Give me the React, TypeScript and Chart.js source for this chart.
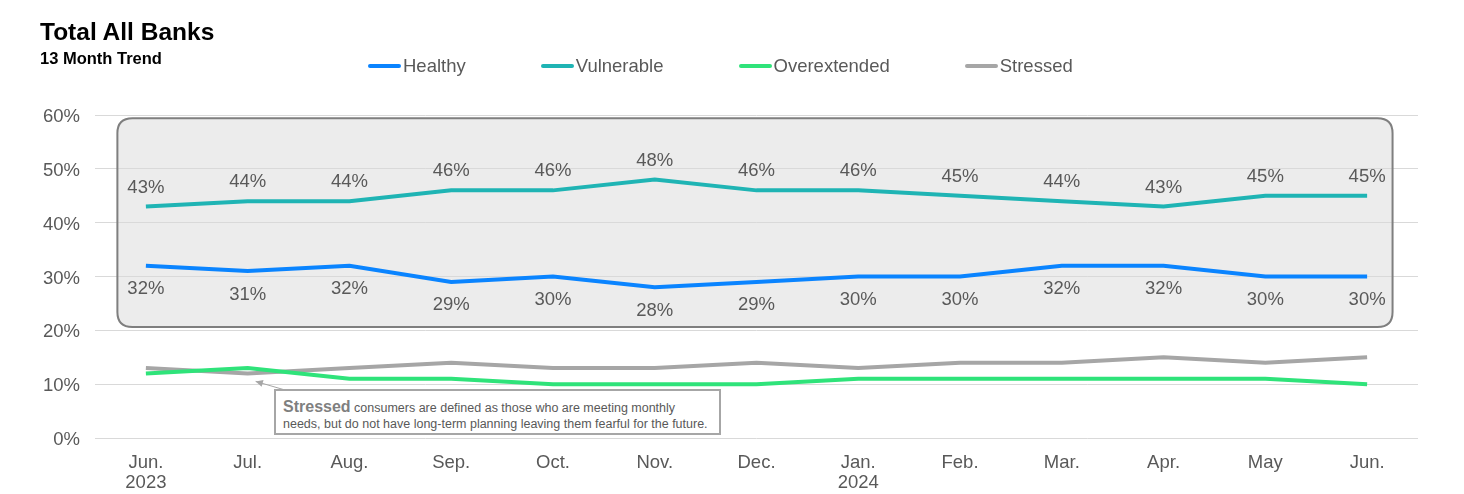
import React, { useEffect, useRef } from "react";
import { Chart, registerables } from "chart.js";

Chart.register(...registerables);

const months = [["Jun.", "2023"], "Jul.", "Aug.", "Sep.", "Oct.", "Nov.", "Dec.", ["Jan.", "2024"], "Feb.", "Mar.", "Apr.", "May", "Jun."];
const healthy = [32, 31, 32, 29, 30, 28, 29, 30, 30, 32, 32, 30, 30];
const vulnerable = [43, 44, 44, 46, 46, 48, 46, 46, 45, 44, 43, 45, 45];
const overextended = [12, 13, 11, 11, 10, 10, 10, 11, 11, 11, 11, 11, 10];
const stressed = [13, 12, 13, 14, 13, 13, 14, 13, 14, 14, 15, 14, 15];
const yTicks = [0, 10, 20, 30, 40, 50, 60];

const FONT = "'Liberation Sans', Arial, sans-serif";
const TEXT = "#595959";
const AXIS_FONT_SIZE = 18.5;

const seriesStyle = [
  { label: "Healthy", data: healthy, color: "#0a84ff", labelPos: "below" },
  { label: "Vulnerable", data: vulnerable, color: "#1fb4b4", labelPos: "above" },
  { label: "Overextended", data: overextended, color: "#2fe37a", labelPos: "none" },
  { label: "Stressed", data: stressed, color: "#a6a6a6", labelPos: "none" },
];

// Shaded panel behind the two upper series, in axis units
const panel = { xMin: -0.28, xMax: 12.25, yMin: 20.6, yMax: 59.4, radius: 15 };

function roundRect(ctx: CanvasRenderingContext2D, x: number, y: number, w: number, h: number, r: number) {
  ctx.beginPath();
  ctx.moveTo(x + r, y);
  ctx.lineTo(x + w - r, y);
  ctx.quadraticCurveTo(x + w, y, x + w, y + r);
  ctx.lineTo(x + w, y + h - r);
  ctx.quadraticCurveTo(x + w, y + h, x + w - r, y + h);
  ctx.lineTo(x + r, y + h);
  ctx.quadraticCurveTo(x, y + h, x, y + h - r);
  ctx.lineTo(x, y + r);
  ctx.quadraticCurveTo(x, y, x + r, y);
  ctx.closePath();
}

function panelRect(chart: any) {
  const { scales } = chart;
  const x0 = scales.x.getPixelForValue(panel.xMin);
  const x1 = scales.x.getPixelForValue(panel.xMax);
  const y0 = scales.y.getPixelForValue(panel.yMax);
  const y1 = scales.y.getPixelForValue(panel.yMin);
  return { x0, x1, y0, y1 };
}

const panelPlugin = {
  id: "panel",
  beforeDraw(chart: any) {
    const { ctx } = chart;
    const { x0, x1, y0, y1 } = panelRect(chart);
    ctx.save();
    roundRect(ctx, x0, y0, x1 - x0, y1 - y0, panel.radius);
    ctx.fillStyle = "#ececec";
    ctx.fill();
    ctx.restore();
  },
  beforeDatasetsDraw(chart: any) {
    const { ctx } = chart;
    const { x0, x1, y0, y1 } = panelRect(chart);
    ctx.save();
    roundRect(ctx, x0, y0, x1 - x0, y1 - y0, panel.radius);
    ctx.strokeStyle = "#7f7f7f";
    ctx.lineWidth = 2;
    ctx.stroke();
    ctx.restore();
  },
};

const valueLabelPlugin = {
  id: "valueLabels",
  afterDatasetsDraw(chart: any) {
    const { ctx } = chart;
    ctx.save();
    ctx.font = `${AXIS_FONT_SIZE}px ${FONT}`;
    ctx.fillStyle = TEXT;
    ctx.textAlign = "center";
    ctx.textBaseline = "middle";
    chart.data.datasets.forEach((ds: any, i: number) => {
      const pos = seriesStyle[i].labelPos;
      if (pos === "none") return;
      const meta = chart.getDatasetMeta(i);
      meta.data.forEach((pt: any, j: number) => {
        const dy = pos === "above" ? -19 : 23.5;
        ctx.fillText(`${ds.data[j]}%`, pt.x, pt.y + dy);
      });
    });
    ctx.restore();
  },
};

// Callout arrow pointing from the note box to the Stressed line
const calloutArrowPlugin = {
  id: "calloutArrow",
  afterDatasetsDraw(chart: any) {
    const { ctx, scales } = chart;
    const tipX = scales.x.getPixelForValue(1) + 8;
    const tipY = scales.y.getPixelForValue(12) + 8;
    const fromX = 285;
    const fromY = 390;
    ctx.save();
    ctx.strokeStyle = "#a6a6a6";
    ctx.fillStyle = "#a6a6a6";
    ctx.lineWidth = 1;
    ctx.beginPath();
    ctx.moveTo(fromX, fromY);
    ctx.lineTo(tipX, tipY);
    ctx.stroke();
    const ang = Math.atan2(tipY - fromY, tipX - fromX);
    const len = 8;
    ctx.beginPath();
    ctx.moveTo(tipX, tipY);
    ctx.lineTo(tipX - len * Math.cos(ang - 0.45), tipY - len * Math.sin(ang - 0.45));
    ctx.lineTo(tipX - len * Math.cos(ang + 0.45), tipY - len * Math.sin(ang + 0.45));
    ctx.closePath();
    ctx.fill();
    ctx.restore();
  },
};

export default function App() {
  const canvasRef = useRef<HTMLCanvasElement | null>(null);

  useEffect(() => {
    document.body.style.margin = "0";
    const canvas = canvasRef.current;
    if (!canvas) return;
    const chart = new Chart(canvas, {
      type: "line",
      data: {
        labels: months,
        datasets: seriesStyle.map((s) => ({
          label: s.label,
          data: s.data,
          borderColor: s.color,
          backgroundColor: s.color,
          borderWidth: 4,
          pointRadius: 0,
          tension: 0,
          fill: false,
        })),
      },
      options: {
        responsive: false,
        animation: false,
        layout: { padding: { left: 0, right: 46, top: 115, bottom: 0 } },
        plugins: {
          legend: { display: false },
          title: { display: false },
          tooltip: { enabled: false },
        },
        scales: {
          x: {
            offset: true,
            grid: { display: false, drawTicks: false },
            border: { display: false },
            ticks: {
              color: TEXT,
              font: { family: FONT, size: AXIS_FONT_SIZE, lineHeight: 1.08 },
              padding: 15,
              maxRotation: 0,
              autoSkip: false,
            },
            afterFit: (s: any) => {
              s.height = 56;
            },
          },
          y: {
            min: 0,
            max: 60,
            afterBuildTicks: (s: any) => {
              s.ticks = yTicks.map((v) => ({ value: v }));
            },
            grid: { color: "#d9d9d9", lineWidth: 1, drawTicks: false },
            border: { display: false },
            ticks: {
              color: TEXT,
              font: { family: FONT, size: AXIS_FONT_SIZE },
              padding: 15,
              labelOffset: 2,
              callback: (v: any) => `${v}%`,
            },
            afterFit: (s: any) => {
              s.width = 95;
            },
          },
        },
      },
      plugins: [panelPlugin, valueLabelPlugin, calloutArrowPlugin],
    });
    return () => chart.destroy();
  }, []);

  return (
    <div style={{ position: "relative", width: 1464, height: 494, background: "#fff", fontFamily: FONT, overflow: "hidden" }}>
      <canvas ref={canvasRef} width={1464} height={494} style={{ position: "absolute", left: 0, top: 0 }} />
      <div style={{ position: "absolute", left: 40, top: 19.5, fontSize: 24.5, fontWeight: "bold", color: "#000", lineHeight: "24.5px", whiteSpace: "nowrap" }}>
        Total All Banks
      </div>
      <div style={{ position: "absolute", left: 40, top: 49.5, fontSize: 16.5, fontWeight: "bold", color: "#000", lineHeight: "17px", whiteSpace: "nowrap" }}>
        13 Month Trend
      </div>
      <div style={{ position: "absolute", left: 368, top: 54, display: "flex", alignItems: "center", height: 24 }}>
        {seriesStyle.map((s, i) => (
          <div key={s.label} style={{ display: "flex", alignItems: "center", marginRight: i < seriesStyle.length - 1 ? 75 : 0 }}>
            <div style={{ width: 33, height: 4, background: s.color, borderRadius: 2, marginRight: 2 }} />
            <span style={{ fontSize: 18.5, color: TEXT, whiteSpace: "nowrap" }}>{s.label}</span>
          </div>
        ))}
      </div>
      <div
        style={{
          position: "absolute",
          left: 274,
          top: 389,
          width: 447,
          height: 46,
          boxSizing: "border-box",
          border: "2px solid #a6a6a6",
          background: "#fff",
          padding: "8px 0 0 7px",
          color: TEXT,
          fontSize: 12.5,
          lineHeight: "16px",
          whiteSpace: "nowrap",
        }}
      >
        <span style={{ fontSize: 16, fontWeight: "bold", color: "#7f7f7f" }}>Stressed</span> consumers are defined as those who are meeting monthly
        <br />
        needs, but do not have long-term planning leaving them fearful for the future.
      </div>
    </div>
  );
}
